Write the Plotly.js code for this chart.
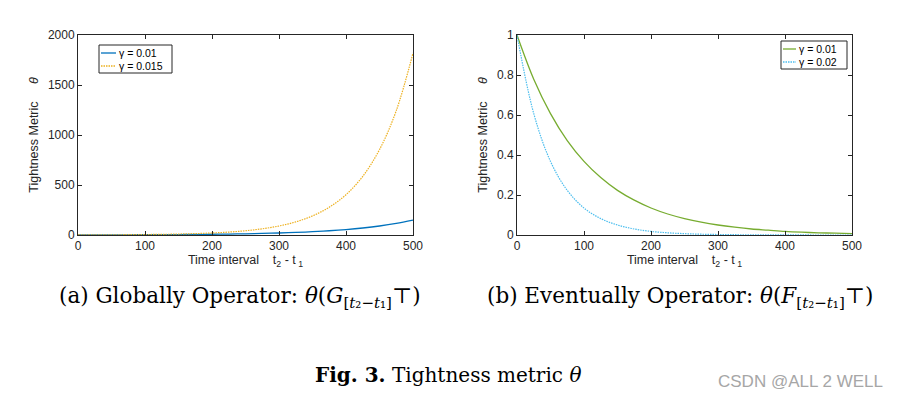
<!DOCTYPE html>
<html>
<head>
<meta charset="utf-8">
<script src="https://cdn.plot.ly/plotly-3.0.1.min.js"></script>
<style>html,body{margin:0;padding:0;background:#fff}#chart{width:904px;height:403px}</style>
</head>
<body>
<div id="chart"></div>
<script>
// time interval t2 - t1
const timeInterval = [0,25,50,75,100,125,150,175,200,225,250,275,300,325,350,375,400,425,450,475,500];
// (a) Globally operator
const globallyG001 = [1,1.28,1.65,2.12,2.72,3.49,4.48,5.75,7.39,9.49,12.2,15.6,20.1,25.8,33.1,42.5,54.6,70.1,90.0,115.6,148];
const globallyG0015 = [1,1.45,2.12,3.08,4.48,6.52,9.49,13.8,20.1,29.2,42.5,61.9,90.0,131,191,278,403,587,854,1243,1820];
// (b) Eventually operator
const eventuallyG001 = [1,0.779,0.607,0.472,0.368,0.287,0.223,0.174,0.135,0.105,0.082,0.064,0.050,0.039,0.030,0.024,0.018,0.014,0.011,0.009,0.0067];
const eventuallyG002 = [1,0.607,0.368,0.223,0.135,0.082,0.050,0.030,0.018,0.011,0.0067,0.004,0.0025,0.0015,0.0009,0.0006,0.0003,0.0002,0.0001,0.0001,0.00005];
const seriesNamesA = ['γ = 0.01','γ = 0.015'];
const seriesNamesB = ['γ = 0.01','γ = 0.02'];
const xTicks = [0,100,200,300,400,500];
const yTicksA = [0,500,1000,1500,2000];
const yTicksB = [0,0.2,0.4,0.6,0.8,1];

const W = 904, H = 403;
const px = v => v / W, py = v => 1 - v / H;
const axisColor = '#262626';
const sans = 'Liberation Sans, Arial, sans-serif';
const serif = 'DejaVu Serif, serif';
const tickFont = {family:sans, size:12, color:axisColor};
const titleFont = {family:sans, size:12.5, color:axisColor};

function xAxis(domain, anchor){
  return {domain:domain, anchor:anchor, range:[0,500], tickvals:xTicks, ticks:'inside', ticklen:4,
    tickcolor:axisColor, showline:true, linecolor:axisColor, linewidth:1, mirror:'ticks',
    showgrid:false, zeroline:false, tickfont:tickFont,
    title:{text:'Time interval&nbsp;&nbsp;&nbsp;&nbsp;t<sub>2</sub> - t<sub>&nbsp;1</sub>', font:titleFont, standoff:1}};
}
function yAxis(domain, anchor, range, ticks){
  return {domain:domain, anchor:anchor, range:range, tickvals:ticks, ticks:'inside', ticklen:4,
    tickcolor:axisColor, showline:true, linecolor:axisColor, linewidth:1, mirror:'ticks',
    showgrid:false, zeroline:false, tickfont:tickFont,
    title:{text:'Tightness Metric&nbsp;&nbsp;&nbsp;&nbsp;&nbsp;<i>θ</i>', font:titleFont, standoff:6}};
}

const colA = ['#0072BD','#EDB120'];
const colB = ['#77AC30','#4DBEEE'];
const dashes = ['solid','1.5px,1px'];
const yDom = [py(235), py(35)];
const traces = [
  {x:timeInterval, y:globallyG001, name:seriesNamesA[0], xaxis:'x', yaxis:'y', mode:'lines',
   line:{color:colA[0], width:1.3, dash:dashes[0], shape:'spline'}},
  {x:timeInterval, y:globallyG0015, name:seriesNamesA[1], xaxis:'x', yaxis:'y', mode:'lines',
   line:{color:colA[1], width:1.2, dash:dashes[1], shape:'spline'}},
  {x:timeInterval, y:eventuallyG001, name:seriesNamesB[0], xaxis:'x2', yaxis:'y2', mode:'lines',
   line:{color:colB[0], width:1.3, dash:dashes[0], shape:'spline'}},
  {x:timeInterval, y:eventuallyG002, name:seriesNamesB[1], xaxis:'x2', yaxis:'y2', mode:'lines',
   line:{color:colB[1], width:1.2, dash:dashes[1], shape:'spline'}}
];

// compact MATLAB-style legends drawn as shapes + annotations
const shapes = [];
const annotations = [];
function addLegend(box, lineX, rowsY, names, cols){
  shapes.push({type:'rect', xref:'paper', yref:'paper', x0:px(box[0]), x1:px(box[1]), y0:py(box[3]), y1:py(box[2]),
    line:{color:axisColor, width:1}, fillcolor:'#fff', layer:'above'});
  names.forEach((n,i)=>{
    shapes.push({type:'line', xref:'paper', yref:'paper', x0:px(lineX[0]), x1:px(lineX[1]), y0:py(rowsY[i]), y1:py(rowsY[i]),
      line:{color:cols[i], width:1.3, dash:dashes[i]}, layer:'above'});
    annotations.push({xref:'paper', yref:'paper', x:px(lineX[1]+1), y:py(rowsY[i]), xanchor:'left', yanchor:'middle',
      showarrow:false, text:n, font:{family:sans, size:10.5, color:'#000'}});
  });
}
addLegend([99,172,45,73],[101,116],[53,66],seriesNamesA,colA);
addLegend([781,847,41,69],[783,796],[49,62],seriesNamesB,colB);

annotations.push(
  {xref:'paper', yref:'paper', x:px(240), y:py(297), xanchor:'center', yanchor:'middle', showarrow:false,
   text:'(a) Globally Operator: <i>θ</i>(<i>G</i><sub>[<i>t</i>₂−<i>t</i>₁]</sub>⊤)', font:{family:serif, size:21.5, color:'#000'}},
  {xref:'paper', yref:'paper', x:px(680), y:py(297), xanchor:'center', yanchor:'middle', showarrow:false,
   text:'(b) Eventually Operator: <i>θ</i>(<i>F</i><sub>[<i>t</i>₂−<i>t</i>₁]</sub>⊤)', font:{family:serif, size:21.5, color:'#000'}},
  {xref:'paper', yref:'paper', x:px(448), y:py(375), xanchor:'center', yanchor:'middle', showarrow:false,
   text:'<b>Fig. 3.</b> Tightness metric <i>θ</i>', font:{family:serif, size:20, color:'#000'}},
  {xref:'paper', yref:'paper', x:px(885), y:py(381), xanchor:'right', yanchor:'middle', showarrow:false,
   text:'CSDN @ALL 2 WELL', font:{family:sans, size:17, color:'#a6a6a6'}}
);

const layout = {
  width:W, height:H, margin:{l:0,r:0,t:0,b:0},
  paper_bgcolor:'#fff', plot_bgcolor:'#fff', showlegend:false,
  xaxis:xAxis([px(78),px(413)],'y'),
  yaxis:yAxis(yDom,'x',[0,2000],yTicksA),
  xaxis2:xAxis([px(517),px(852)],'y2'),
  yaxis2:yAxis(yDom,'x2',[0,1],yTicksB),
  shapes:shapes, annotations:annotations
};
Plotly.newPlot('chart', traces, layout, {displayModeBar:false, staticPlot:true});
</script>
</body>
</html>
